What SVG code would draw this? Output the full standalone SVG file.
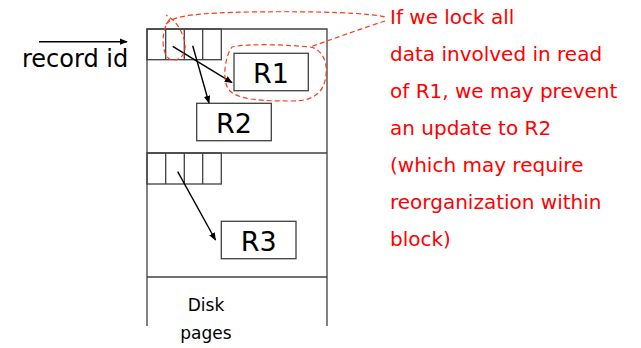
<svg xmlns="http://www.w3.org/2000/svg" width="641" height="348" viewBox="0 0 641 348">
<defs>
<marker id="ah" viewBox="0 0 10 10" refX="9" refY="5" markerWidth="8" markerHeight="8" markerUnits="userSpaceOnUse" orient="auto">
<path d="M0,1 L10,5 L0,9 z" fill="#000"/>
</marker>
</defs>
<style>
.ln{fill:none;stroke:#404040;stroke-width:1.3}
.bx{fill:#fff;stroke:#404040;stroke-width:1.3}
.ar{fill:none;stroke:#000;stroke-width:1.4;marker-end:url(#ah)}
.rd{fill:none;stroke:#ff3a1a;stroke-width:1.2;stroke-dasharray:5,3}
.t{font-family:"DejaVu Sans",Verdana,sans-serif;fill:#000}
.rt{font-family:"DejaVu Sans",Verdana,sans-serif;fill:#ff0000;font-size:20px}
</style>
<g id="page">
<path class="ln" d="M147,326 V29 H327 V326"/>
<line class="ln" x1="147" y1="153" x2="327" y2="153"/>
<line class="ln" x1="147" y1="277" x2="327" y2="277"/>
</g>
<g id="header1">
<rect class="ln" x="147" y="29" width="74.3" height="30.7"/>
<line class="ln" x1="165.7" y1="29" x2="165.7" y2="59.7"/>
<line class="ln" x1="184.3" y1="29" x2="184.3" y2="59.7"/>
<line class="ln" x1="202.7" y1="29" x2="202.7" y2="59.7"/>
</g>
<g id="header2">
<rect class="ln" x="147" y="153" width="74.3" height="31"/>
<line class="ln" x1="165.7" y1="153" x2="165.7" y2="184"/>
<line class="ln" x1="184.3" y1="153" x2="184.3" y2="184"/>
<line class="ln" x1="202.7" y1="153" x2="202.7" y2="184"/>
</g>
<g id="R1">
<rect class="bx" x="234" y="53.3" width="74.3" height="37.4"/>
<text class="t" x="271" y="83" font-size="27" text-anchor="middle">R1</text>
</g>
<g id="R2">
<rect class="bx" x="196.7" y="103.3" width="74.6" height="37.4"/>
<text class="t" x="234" y="133" font-size="27" text-anchor="middle">R2</text>
</g>
<g id="R3">
<rect class="bx" x="221.3" y="221.3" width="74.7" height="37.4"/>
<text class="t" x="258.7" y="251" font-size="27" text-anchor="middle">R3</text>
</g>
<g id="record-id">
<text class="t" x="22" y="67" font-size="24">record id</text>
</g>
<g id="disk-pages">
<text class="t" x="206" y="311" font-size="17" text-anchor="middle">Disk</text>
<text class="t" x="206" y="339" font-size="17" text-anchor="middle">pages</text>
</g>
<g id="connectors">
<line class="ar" x1="39" y1="41.7" x2="127" y2="41.7"/>
<line class="ar" x1="172.7" y1="46.3" x2="232" y2="82.7"/>
<line class="ar" x1="192.7" y1="45.7" x2="209" y2="103"/>
<line class="ar" x1="177.7" y1="171.7" x2="215.5" y2="240"/>
</g>
<g id="callout">
<path class="rd" d="M170,19 C160,30 161,58 172,60 C184,61 188,48 183,36 C180,28 176,21 166,15"/>
<path class="rd" d="M166,24 C174,15 200,13 250,12 C320,11 370,13 385,17 M385,21 C360,29 330,40 310,47"/>
<path class="rd" d="M310,47 C320,48 328,60 326,75 C324,94 312,101 292,101 C262,101 240,100 230,91 C221,82 225,56 232,47 C250,43 290,45 310,47 Z"/>
</g>
<g id="note">
<text class="rt" x="390" y="24">If we lock all</text>
<text class="rt" x="390" y="61">data involved in read</text>
<text class="rt" x="390" y="98">of R1, we may prevent</text>
<text class="rt" x="390" y="135">an update to R2</text>
<text class="rt" x="390" y="172">(which may require</text>
<text class="rt" x="390" y="209">reorganization within</text>
<text class="rt" x="390" y="246">block)</text>
</g>
</svg>
